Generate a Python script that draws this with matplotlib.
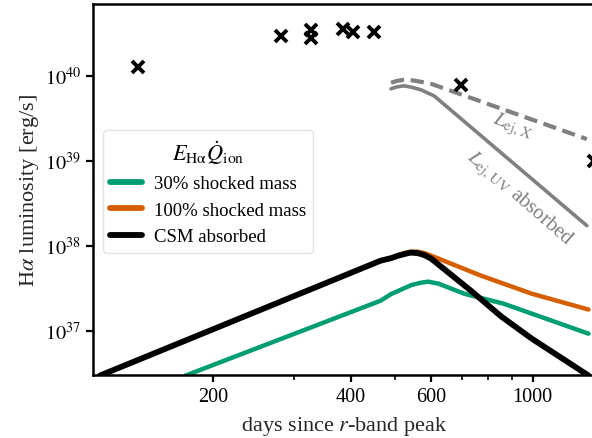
import matplotlib
matplotlib.use("Agg")
import matplotlib.pyplot as plt
from matplotlib.ticker import FixedLocator, NullFormatter, NullLocator

plt.rcParams['font.family'] = ['Liberation Serif', 'DejaVu Serif']
plt.rcParams['mathtext.fontset'] = 'stix'

# observed points (days, erg/s)
obs_t = [137, 282, 328, 328, 384, 404, 449, 698, 1365]
obs_L = [1.28e40, 2.95e40, 3.45e40, 2.8e40, 3.57e40, 3.3e40, 3.3e40, 7.8e39, 1.0e39]

# ejecta X-ray (dashed) and UV absorbed (solid)
x_t = [490, 505, 523, 545, 570, 600, 1315]
x_L = [8.27e39, 8.73e39, 8.97e39, 8.85e39, 8.5e39, 8.05e39, 1.8e39]
uv_t = [490, 505, 523, 545, 570, 609, 1315]
uv_L = [7.03e39, 7.42e39, 7.63e39, 7.32e39, 6.84e39, 5.8e39, 1.72e38]

# E_Ha Qdot_ion models
g_t = [174, 465, 490, 515, 542, 570, 591, 622, 664, 708, 863, 1326]
g_L = [2.96e36, 2.25e37, 2.69e37, 3.03e37, 3.43e37, 3.67e37, 3.77e37, 3.57e37,
       3.12e37, 2.72e37, 2.08e37, 9.2e36]
o_t = [113, 465, 490, 508, 528, 541, 561, 580, 600, 771, 996, 1326]
o_L = [2.96e36, 6.66e37, 7.13e37, 7.73e37, 8.28e37, 8.5e37, 8.5e37, 8.17e37,
       7.62e37, 4.44e37, 2.72e37, 1.77e37]
k_t = [113, 465, 490, 508, 528, 541, 561, 580, 600, 733, 855, 996, 1326]
k_L = [2.96e36, 6.66e37, 7.13e37, 7.62e37, 8.05e37, 8.28e37, 8.17e37, 7.73e37,
       7.03e37, 2.95e37, 1.46e37, 8.05e36, 2.96e36]

labels = ["30% shocked mass", "100% shocked mass", "CSM absorbed"]
colors = ["#029e73", "#d55e00", "#000000"]

fig = plt.figure(figsize=(5.92, 4.39), dpi=100)
ax = fig.add_axes([0.157, 0.1435, 0.848, 0.845])
ax.set_xscale('log')
ax.set_yscale('log')

ax.plot(x_t, x_L, color='#808080', lw=3.0, ls=(0, (3.2, 1.6)))
ax.plot(uv_t, uv_L, color='#808080', lw=2.6, solid_capstyle='round')

ax.plot(g_t, g_L, color=colors[0], lw=3.2, label=labels[0], solid_capstyle='round',
        solid_joinstyle='round')
ax.plot(o_t, o_L, color=colors[1], lw=3.2, label=labels[1], solid_capstyle='round',
        solid_joinstyle='round')
ax.plot(k_t, k_L, color=colors[2], lw=4.2, label=labels[2], solid_capstyle='round',
        solid_joinstyle='round')

ax.plot(obs_t, obs_L, ls='none', marker='x', color='k', ms=8, mew=2.8, clip_on=False)

ax.text(905, 2.55e39, r'$L_{\rm ej,\,X}$', color='#808080', fontsize=15,
        rotation=-21, ha='center', va='center')
ax.text(935, 3.6e38, r'$L_{\rm ej,\,UV}$ absorbed', color='#808080', fontsize=15,
        rotation=-41, ha='center', va='center')

ax.set_xlim(109, 1370)
ax.set_ylim(3e36, 7e40)

ax.xaxis.set_major_locator(FixedLocator([200, 400, 600, 1000]))
ax.xaxis.set_minor_locator(FixedLocator([300, 500, 700, 800, 900]))
ax.set_xticklabels(['200', '400', '600', '1000'])
ax.xaxis.set_minor_formatter(NullFormatter())
ax.yaxis.set_major_locator(FixedLocator([1e37, 1e38, 1e39, 1e40]))
ax.set_yticklabels([r'$10^{37}$', r'$10^{38}$', r'$10^{39}$', r'$10^{40}$'])
ax.yaxis.set_minor_locator(NullLocator())

ax.tick_params(which='major', labelsize=14.5, length=5, width=1.6, color='k')
ax.tick_params(which='minor', length=3.5, width=1.2)
for s in ax.spines.values():
    s.set_linewidth(1.8)

ax.set_xlabel(r'days since $r$-band peak', fontsize=16, color='#262626', labelpad=6)
ax.set_ylabel(r'H$\alpha$ luminosity [erg/s]', fontsize=16, color='#262626', labelpad=3)

leg = ax.legend(loc='upper left', bbox_to_anchor=(0.02, 0.66), borderaxespad=0,
                title=r'$E_{\rm H\alpha}\dot{Q}_{\rm ion}$', fontsize=13.5,
                title_fontsize=16, handlelength=1.7, handletextpad=0.6,
                framealpha=0.8, edgecolor='#dddddd', fancybox=True)
for h in leg.get_lines():
    h.set_linewidth(4.2)

fig.savefig('out.png', dpi=100)
